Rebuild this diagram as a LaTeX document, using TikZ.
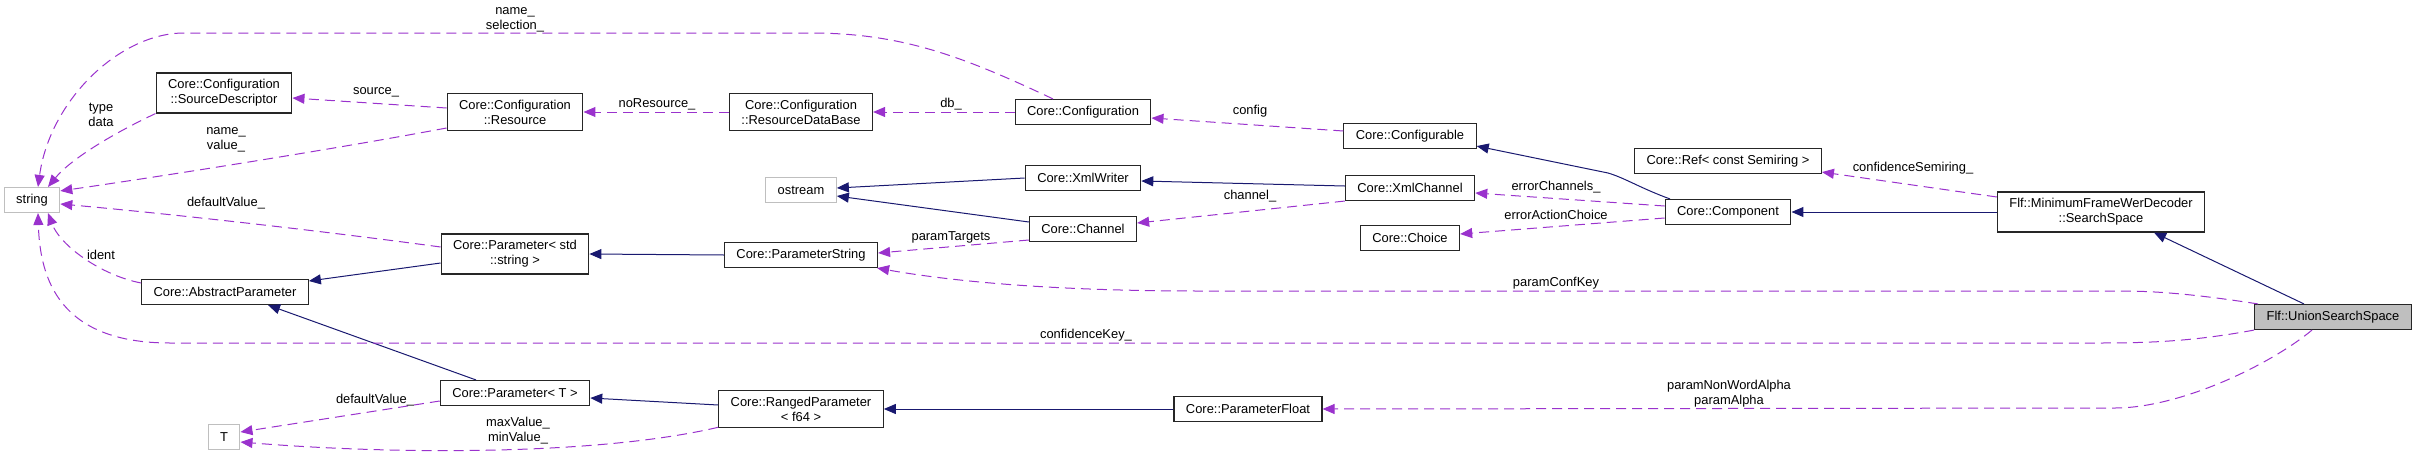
\documentclass[tikz,border=0pt]{standalone}
\usepackage{fontspec}
\setmainfont{Liberation Sans}
\usetikzlibrary{arrows.meta}
\definecolor{inherit}{HTML}{191970}
\definecolor{usage}{HTML}{9A32CD}
\definecolor{grey75}{HTML}{BFBFBF}

\begin{document}
\begin{tikzpicture}[x=1pt,y=-1pt,
		font=\fontsize{12.9}{15}\selectfont,
		cls/.style={draw=black!85,line width=1.1pt,fill=white,align=center,inner xsep=12pt,inner ysep=6.5pt,minimum height=25pt},
		ext/.style={cls,draw=grey75},
		cur/.style={cls,fill=grey75},
		lbl/.style={align=center,inner sep=0pt},
		inh/.style={color=inherit,line width=1pt,-{Triangle[length=12pt,width=10pt]}},
		use/.style={color=usage,line width=1pt,dash pattern=on 10pt off 6pt,-{Triangle[length=12pt,width=10pt]}}]
		\useasboundingbox (0,0) rectangle (2417,458);

		\node[ext] (Str) at (32,200) {string};
		\node[cls] (SrcD) at (224,93) {Core::Configuration\\::SourceDescriptor};
		\node[cls] (Res) at (515,112) {Core::Configuration\\::Resource};
		\node[cls] (RDB) at (801,112) {Core::Configuration\\::ResourceDataBase};
		\node[cls] (Conf) at (1083,112) {Core::Configuration};
		\node[ext] (Ostr) at (801,190) {ostream};
		\node[cls] (XW) at (1083,178) {Core::XmlWriter};
		\node[cls] (Chan) at (1083,229) {Core::Channel};
		\node[cls] (Cfgb) at (1410,136) {Core::Configurable};
		\node[cls] (XC) at (1410,188) {Core::XmlChannel};
		\node[cls] (Choice) at (1410,238) {Core::Choice};
		\node[cls] (Ref) at (1728,161) {Core::Ref< const Semiring >};
		\node[cls] (Comp) at (1728,212) {Core::Component};
		\node[cls] (SS) at (2101,212) {Flf::MinimumFrameWerDecoder\\::SearchSpace};
		\node[cur] (USS) at (2333,317) {Flf::UnionSearchSpace};
		\node[cls] (AP) at (225,292) {Core::AbstractParameter};
		\node[cls] (PStd) at (515,254) {Core::Parameter< std\\::string >};
		\node[cls] (PStr) at (801,255) {Core::ParameterString};
		\node[cls] (PT) at (515,393) {Core::Parameter< T >};
		\node[ext] (T) at (224,437) {T};
		\node[cls] (RP) at (801,409) {Core::RangedParameter\\< f64 >};
		\node[cls] (PF) at (1248,409) {Core::ParameterFloat};

		\draw[inh] (XW.west) -- ([yshift=2pt]Ostr.east);
		\draw[inh] ([yshift=7pt]Chan.west) -- ([yshift=-6pt]Ostr.east);
		\draw[inh] ([yshift=2pt]XC.west) -- ([yshift=-3pt]XW.east);
		\draw[inh] ([xshift=-58pt]Comp.north) .. controls (1640,188) and (1625,178) .. (1608,173) -- ([yshift=3pt]Cfgb.south east);
		\draw[inh] (SS.west) -- (Comp.east);
		\draw[inh] ([xshift=-29pt]USS.north) -- ([xshift=53pt]SS.south);
		\draw[inh] ([yshift=-9pt]PStd.west) -- ([yshift=11pt]AP.east);
		\draw[inh] (PStr.west) -- (PStd.east);
		\draw[inh] ([xshift=-39pt]PT.north) -- ([xshift=43pt]AP.south);
		\draw[inh] ([yshift=4pt]RP.west) -- ([yshift=-5pt]PT.east);
		\draw[inh] (PF.west) -- (RP.east);

		\draw[use] ([xshift=-30pt]Conf.north) .. controls (960,55) and (900,33) .. (810,33) -- (184,33) .. controls (120,33) and (50,100) .. ([xshift=6pt]Str.north);
		\draw[use] (SrcD.south west) .. controls (110,135) and (70,160) .. ([xshift=16pt]Str.north);
		\draw[use] ([yshift=4pt]Res.west) -- ([yshift=-5pt]SrcD.east);
		\draw[use] ([yshift=-16pt]Res.west) .. controls (330,150) and (150,178) .. ([yshift=-4pt]Str.north east);
		\draw[use] (RDB.west) -- (Res.east);
		\draw[use] (Conf.west) -- (RDB.east);
		\draw[use] ([yshift=5pt]Cfgb.west) -- ([yshift=-6pt]Conf.east);
		\draw[use] ([yshift=7pt]PStd.west) .. controls (300,228) and (150,212) .. ([yshift=-4pt]Str.east);
		\draw[use] ([yshift=9pt]AP.west) .. controls (100,275) and (60,245) .. ([xshift=16pt]Str.south);
		\draw[use] (USS.south west) .. controls (2200,340) and (2160,343) .. (2100,343) -- (170,343) .. controls (60,343) and (40,280) .. ([xshift=6pt]Str.south);
		\draw[use] ([xshift=4pt]USS.north west) .. controls (2200,295) and (2160,291) .. (2120,291) -- (1200,291) .. controls (1050,291) and (950,281) .. ([xshift=-1pt]PStr.south east);
		\draw[use] (XC.south west) -- ([yshift=6pt]Chan.east);
		\draw[use] ([yshift=6pt]Comp.west) -- ([yshift=-5pt]XC.east);
		\draw[use] ([yshift=-6pt]Comp.west) -- ([yshift=4pt]Choice.east);
		\draw[use] ([yshift=-11pt]Chan.west) -- ([yshift=2pt]PStr.east);
		\draw[use] ([yshift=15pt]SS.west) -- ([yshift=2pt]Ref.south east);
		\draw[use] ([yshift=-8pt]PT.west) -- ([yshift=5pt]T.east);
		\draw[use] ([yshift=1pt]RP.south west) .. controls (600,455) and (400,455) .. ([yshift=-5pt]T.east);
		\draw[use] ([xshift=-21pt]USS.south) .. controls (2270,365) and (2180,408) .. (2115,408) -- (PF.east);

		\node[lbl] (lSel) at (515,20) {name\_\\selection\_};
		\node[lbl] (lType) at (101,115) {type\\data};
		\node[lbl] (lSrc) at (376,92) {source\_};
		\node[lbl] (lVal) at (226,140) {name\_\\value\_};
		\node[lbl] (lNoRes) at (657,104) {noResource\_};
		\node[lbl] (lDb) at (951,104) {db\_};
		\node[lbl] (lCfg) at (1250,111) {config};
		\node[lbl] (lDef) at (226,203) {defaultValue\_};
		\node[lbl] (lIdent) at (101,255) {ident};
		\node[lbl] (lKey) at (1086,335) {confidenceKey\_};
		\node[lbl] (lConf) at (1556,283) {paramConfKey};
		\node[lbl] (lChan) at (1250,196) {channel\_};
		\node[lbl] (lErrC) at (1556,187) {errorChannels\_};
		\node[lbl] (lErrA) at (1556,215) {errorActionChoice};
		\node[lbl] (lTarg) at (951,237) {paramTargets};
		\node[lbl] (lSemi) at (1913,168) {confidenceSemiring\_};
		\node[lbl] (lDefT) at (375,400) {defaultValue\_};
		\node[lbl] (lMinMax) at (518,431) {maxValue\_\\minValue\_};
		\node[lbl] (lAlpha) at (1729,394) {paramNonWordAlpha\\paramAlpha};
	\end{tikzpicture}
\end{document}
